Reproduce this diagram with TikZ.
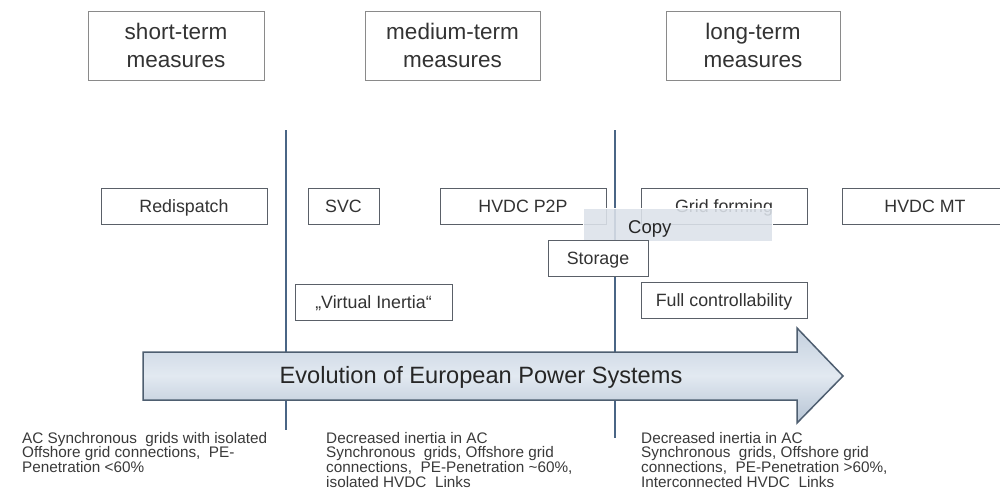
\documentclass[tikz,border=0pt]{standalone}
\usepackage{fontspec}
\setmainfont{Liberation Sans}
\usetikzlibrary{shadings}
\definecolor{txt}{HTML}{333333}
\definecolor{notetxt}{HTML}{3A3A3A}
\definecolor{headline}{HTML}{8A8A8A}
\definecolor{boxline}{HTML}{5A6068}
\definecolor{axis}{HTML}{4A6585}
\definecolor{arrowline}{HTML}{4E5E70}
\definecolor{arrowtop}{HTML}{C4D0DE}
\definecolor{arrowmid}{HTML}{E2E9F1}
\definecolor{arrowbot}{HTML}{B6C4D4}
\definecolor{popup}{HTML}{DCE2EA}
\begin{document}
\begin{tikzpicture}[x=1pt,y=-1pt,
  every node/.style={text=txt},
  head/.style={draw=headline, line width=0.9pt, fill=white, align=center,
    inner sep=0pt, font=\fontsize{22.5}{28.5}\selectfont},
  measure/.style={draw=boxline, line width=1pt, fill=white, inner sep=0pt,
    text height=14pt, text depth=1.2pt,
    minimum height=36pt, font=\fontsize{17.8}{20}\selectfont},
  note/.style={anchor=north west, align=left, inner sep=0pt, text=notetxt,
    font=\fontsize{15.3}{14.7}\selectfont},
  divider/.style={draw=axis, line width=1.6pt}
]
\useasboundingbox (0,0) rectangle (1000,501);
\fill[white] (0,0) rectangle (1000,501);

% time horizons
\node[head, minimum width=176pt, minimum height=69pt] (short) at (176,45.5) {short-term\\measures};
\node[head, minimum width=175pt, minimum height=69pt] (medium) at (452.5,45.5) {medium-term\\measures};
\node[head, minimum width=174pt, minimum height=69pt] (long) at (753,45.5) {long-term\\measures};

% dividers between the horizons
\coordinate (d1top) at (286,130);
\coordinate (d1bot) at (286,430);
\coordinate (d2top) at (615,130);
\coordinate (d2bot) at (615,438);
\draw[divider] (d1top) -- (d1bot);
\draw[divider] (d2top) -- (d2bot);

% measures
\node[measure, minimum width=166pt] (redispatch) at (184,206) {Redispatch};
\node[measure, minimum width=71pt] (svc) at (343.5,206) {SVC};
\node[measure, minimum width=166pt] (p2p) at (523,206) {HVDC P2P};
\node[measure, minimum width=166pt] (gridform) at (724,206) {Grid forming};
\node[measure, minimum width=166pt] (mt) at (925,206) {HVDC MT};

% context menu
\node[fill=popup, fill opacity=0.88, text opacity=1, draw=white, line width=0.6pt,
  minimum width=189pt, minimum height=33pt, inner sep=0pt] (menu) at (677.5,224.5) {};
\node[anchor=west, inner sep=0pt, text=black!85, font=\fontsize{18.5}{20}\selectfont] (copy) at (628,229) {Copy};

\node[measure, minimum width=100pt] (storage) at (598,258) {Storage};
\node[measure, minimum width=157pt] (virtual) at (373.5,302) {„Virtual Inertia“};
\node[measure, minimum width=166pt] (fullctrl) at (724,300) {Full controllability};

% evolution arrow
\path[draw=arrowline, line width=1.5pt, line join=miter,
  top color=arrowtop, bottom color=arrowbot, middle color=arrowmid]
  (143,352) -- (797,352) -- (797,328) -- (843,376) -- (797,423) -- (797,400) -- (143,400) -- cycle;
\node[font=\fontsize{23.6}{26}\selectfont, text=black!85] (evo) at (481,377) {Evolution of European Power Systems};

% system states
\node[note] (state1) at (22,432) {AC Synchronous\ \ grids with isolated\\Offshore grid connections,\ \ PE-\\Penetration <60\%};
\node[note] (state2) at (326,432) {Decreased inertia in AC\\Synchronous\ \ grids, Offshore grid\\connections,\ \ PE-Penetration \textasciitilde60\%,\\isolated HVDC\ \ Links};
\node[note] (state3) at (641,432) {Decreased inertia in AC\\Synchronous\ \ grids, Offshore grid\\connections,\ \ PE-Penetration >60\%,\\Interconnected HVDC\ \ Links};
\end{tikzpicture}
\end{document}
